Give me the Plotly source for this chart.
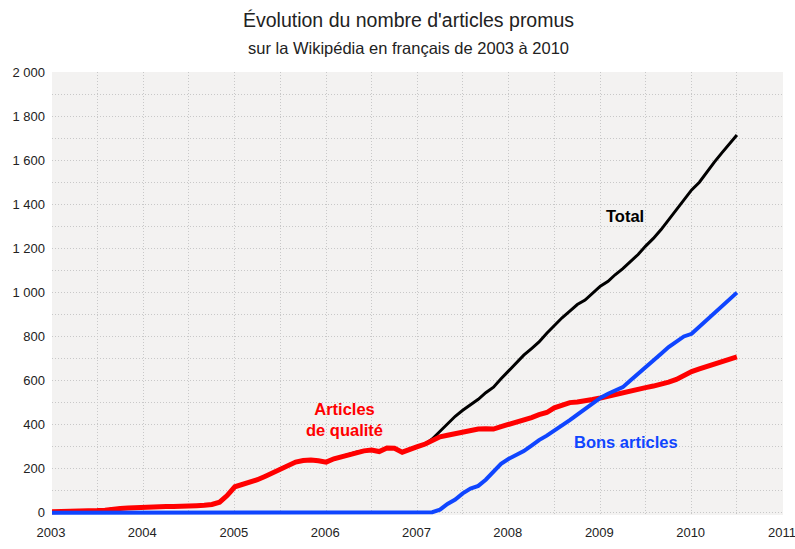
import plotly.graph_objects as go
import pandas as pd

# Monthly dates, January 2003 to July 2010
months = pd.date_range("2003-01-01", "2010-07-01", freq="MS").strftime("%Y-%m-%d").tolist()

articles_de_qualite = [
    5, 5, 6, 8, 9, 10, 10, 12, 18, 20, 22, 24,
    26, 27, 28, 28, 28, 28, 30, 32, 34, 38, 48, 78,
    118, 128, 137, 150, 165, 180, 200, 215, 230, 237, 240, 236,
    230, 245, 254, 263, 275, 281, 285, 278, 294, 293, 275, 290,
    300, 312, 325, 345, 352, 360, 366, 375, 380, 381, 380, 391,
    400, 409, 420, 432, 445, 455, 476, 490, 500, 503, 506, 514,
    521, 530, 538, 545, 555, 562, 568, 575, 582, 593, 605, 625,
    641, 653, 663, 672, 680, 693, 707,
]

bons_articles = [
    0, 0, 0, 0, 0, 0, 0, 0, 0, 0, 0, 0,
    0, 0, 0, 0, 0, 0, 0, 0, 0, 0, 0, 0,
    0, 0, 0, 0, 0, 0, 0, 0, 0, 0, 0, 0,
    0, 0, 0, 0, 0, 0, 0, 0, 0, 0, 0, 0,
    0, 1, 3, 14, 40, 60, 88, 110, 122, 150, 190, 222,
    245, 262, 280, 305, 330, 350, 372, 395, 420, 445, 470, 492,
    521, 540, 552, 570, 600, 632, 660, 692, 722, 752, 775, 800,
    812, 845, 875, 905, 937, 968, 999,
]

total = [
    5, 5, 6, 8, 9, 10, 10, 12, 18, 20, 22, 24,
    26, 27, 28, 28, 28, 28, 30, 32, 34, 38, 48, 78,
    118, 128, 137, 150, 165, 180, 200, 215, 230, 237, 240, 236,
    230, 245, 254, 263, 275, 281, 285, 278, 294, 293, 275, 290,
    300, 312, 335, 369, 405, 438, 465, 490, 515, 545, 570, 608,
    645, 678, 715, 745, 775, 815, 850, 885, 915, 945, 965, 995,
    1028, 1050, 1080, 1108, 1140, 1172, 1210, 1245, 1285, 1328, 1375, 1420,
    1465, 1500, 1545, 1590, 1632, 1672, 1714,
]

title_text = "Évolution du nombre d'articles promus"
subtitle_text = "sur la Wikipédia en français de 2003 à 2010"

FONT = "Liberation Sans, Arial, sans-serif"
GRID = "#c8c8c8"
DOTS = "1px,2px"
W, H = 795, 549
ML, MR, MT, MB = 52, 12, 72, 34

fig = go.Figure()
fig.add_trace(go.Scatter(x=months, y=total, mode="lines", name="Total",
                         line=dict(color="#000000", width=3)))
fig.add_trace(go.Scatter(x=months, y=articles_de_qualite, mode="lines", name="Articles de qualité",
                         line=dict(color="#ff0000", width=5)))
fig.add_trace(go.Scatter(x=months, y=bons_articles, mode="lines", name="Bons articles",
                         line=dict(color="#0f45ff", width=4)))

fig.update_layout(
    width=W, height=H,
    margin=dict(l=ML, r=MR, t=MT, b=MB, autoexpand=False),
    paper_bgcolor="#ffffff",
    plot_bgcolor="#f3f2f1",
    showlegend=False,
    separators=", ",
    font=dict(family=FONT, color="#222222", size=13),
)

fig.update_xaxes(
    type="date", automargin=False,
    range=["2003-01-01", "2011-01-01 06:00"],
    dtick="M12", tick0="2003-01-01", tickformat="%Y",
    showgrid=True, gridcolor=GRID, griddash=DOTS, gridwidth=1,
    minor=dict(dtick="M6", showgrid=True, gridcolor=GRID, griddash=DOTS, gridwidth=1),
    showline=False, zeroline=False, ticks="",
    ticklabelstandoff=8, ticklabeloverflow="allow", ticklabelshift=-1,
    tickfont=dict(family=FONT, size=13, color="#222222"),
)
fig.update_yaxes(
    automargin=False,
    range=[-10, 2000],
    dtick=200, tick0=0, tickformat=",d",
    showgrid=True, gridcolor=GRID, griddash=DOTS, gridwidth=1,
    minor=dict(dtick=100, showgrid=True, gridcolor=GRID, griddash=DOTS, gridwidth=1),
    showline=False, zeroline=False, ticks="",
    ticklabelstandoff=6, ticklabeloverflow="allow",
    tickfont=dict(family=FONT, size=13, color="#222222"),
)

annotations = [
    dict(text=title_text, x=408, y=20, font=dict(size=19.5, color="#222222")),
    dict(text=subtitle_text, x=408, y=48, font=dict(size=16.5, color="#222222")),
]
for a in annotations:
    fig.add_annotation(text=a["text"], xref="paper", yref="paper",
                       x=(a["x"] - ML) / (W - ML - MR),
                       y=1 + (MT - a["y"]) / (H - MT - MB),
                       xanchor="center", yanchor="middle", showarrow=False,
                       font=dict(family=FONT, **a["font"]))

fig.add_annotation(text="<b>Total</b>", x="2009-04-08", y=1347, showarrow=False,
                   xanchor="center", yanchor="middle",
                   font=dict(family=FONT, size=16.5, color="#000000"))
fig.add_annotation(text="<b>Articles<br>de qualité</b>", x="2006-03-17", y=422, showarrow=False,
                   xanchor="center", yanchor="middle",
                   font=dict(family=FONT, size=16.5, color="#ff0000"))
fig.add_annotation(text="<b>Bons articles</b>", x="2009-04-15", y=322, showarrow=False,
                   xanchor="center", yanchor="middle",
                   font=dict(family=FONT, size=16.5, color="#0f45ff"))

page_css = ("document.body.style.margin='0';"
            "document.body.style.overflow='hidden';"
            "document.documentElement.style.overflow='hidden';")
fig.write_html("out.html", post_script=page_css, config={"displayModeBar": False})
